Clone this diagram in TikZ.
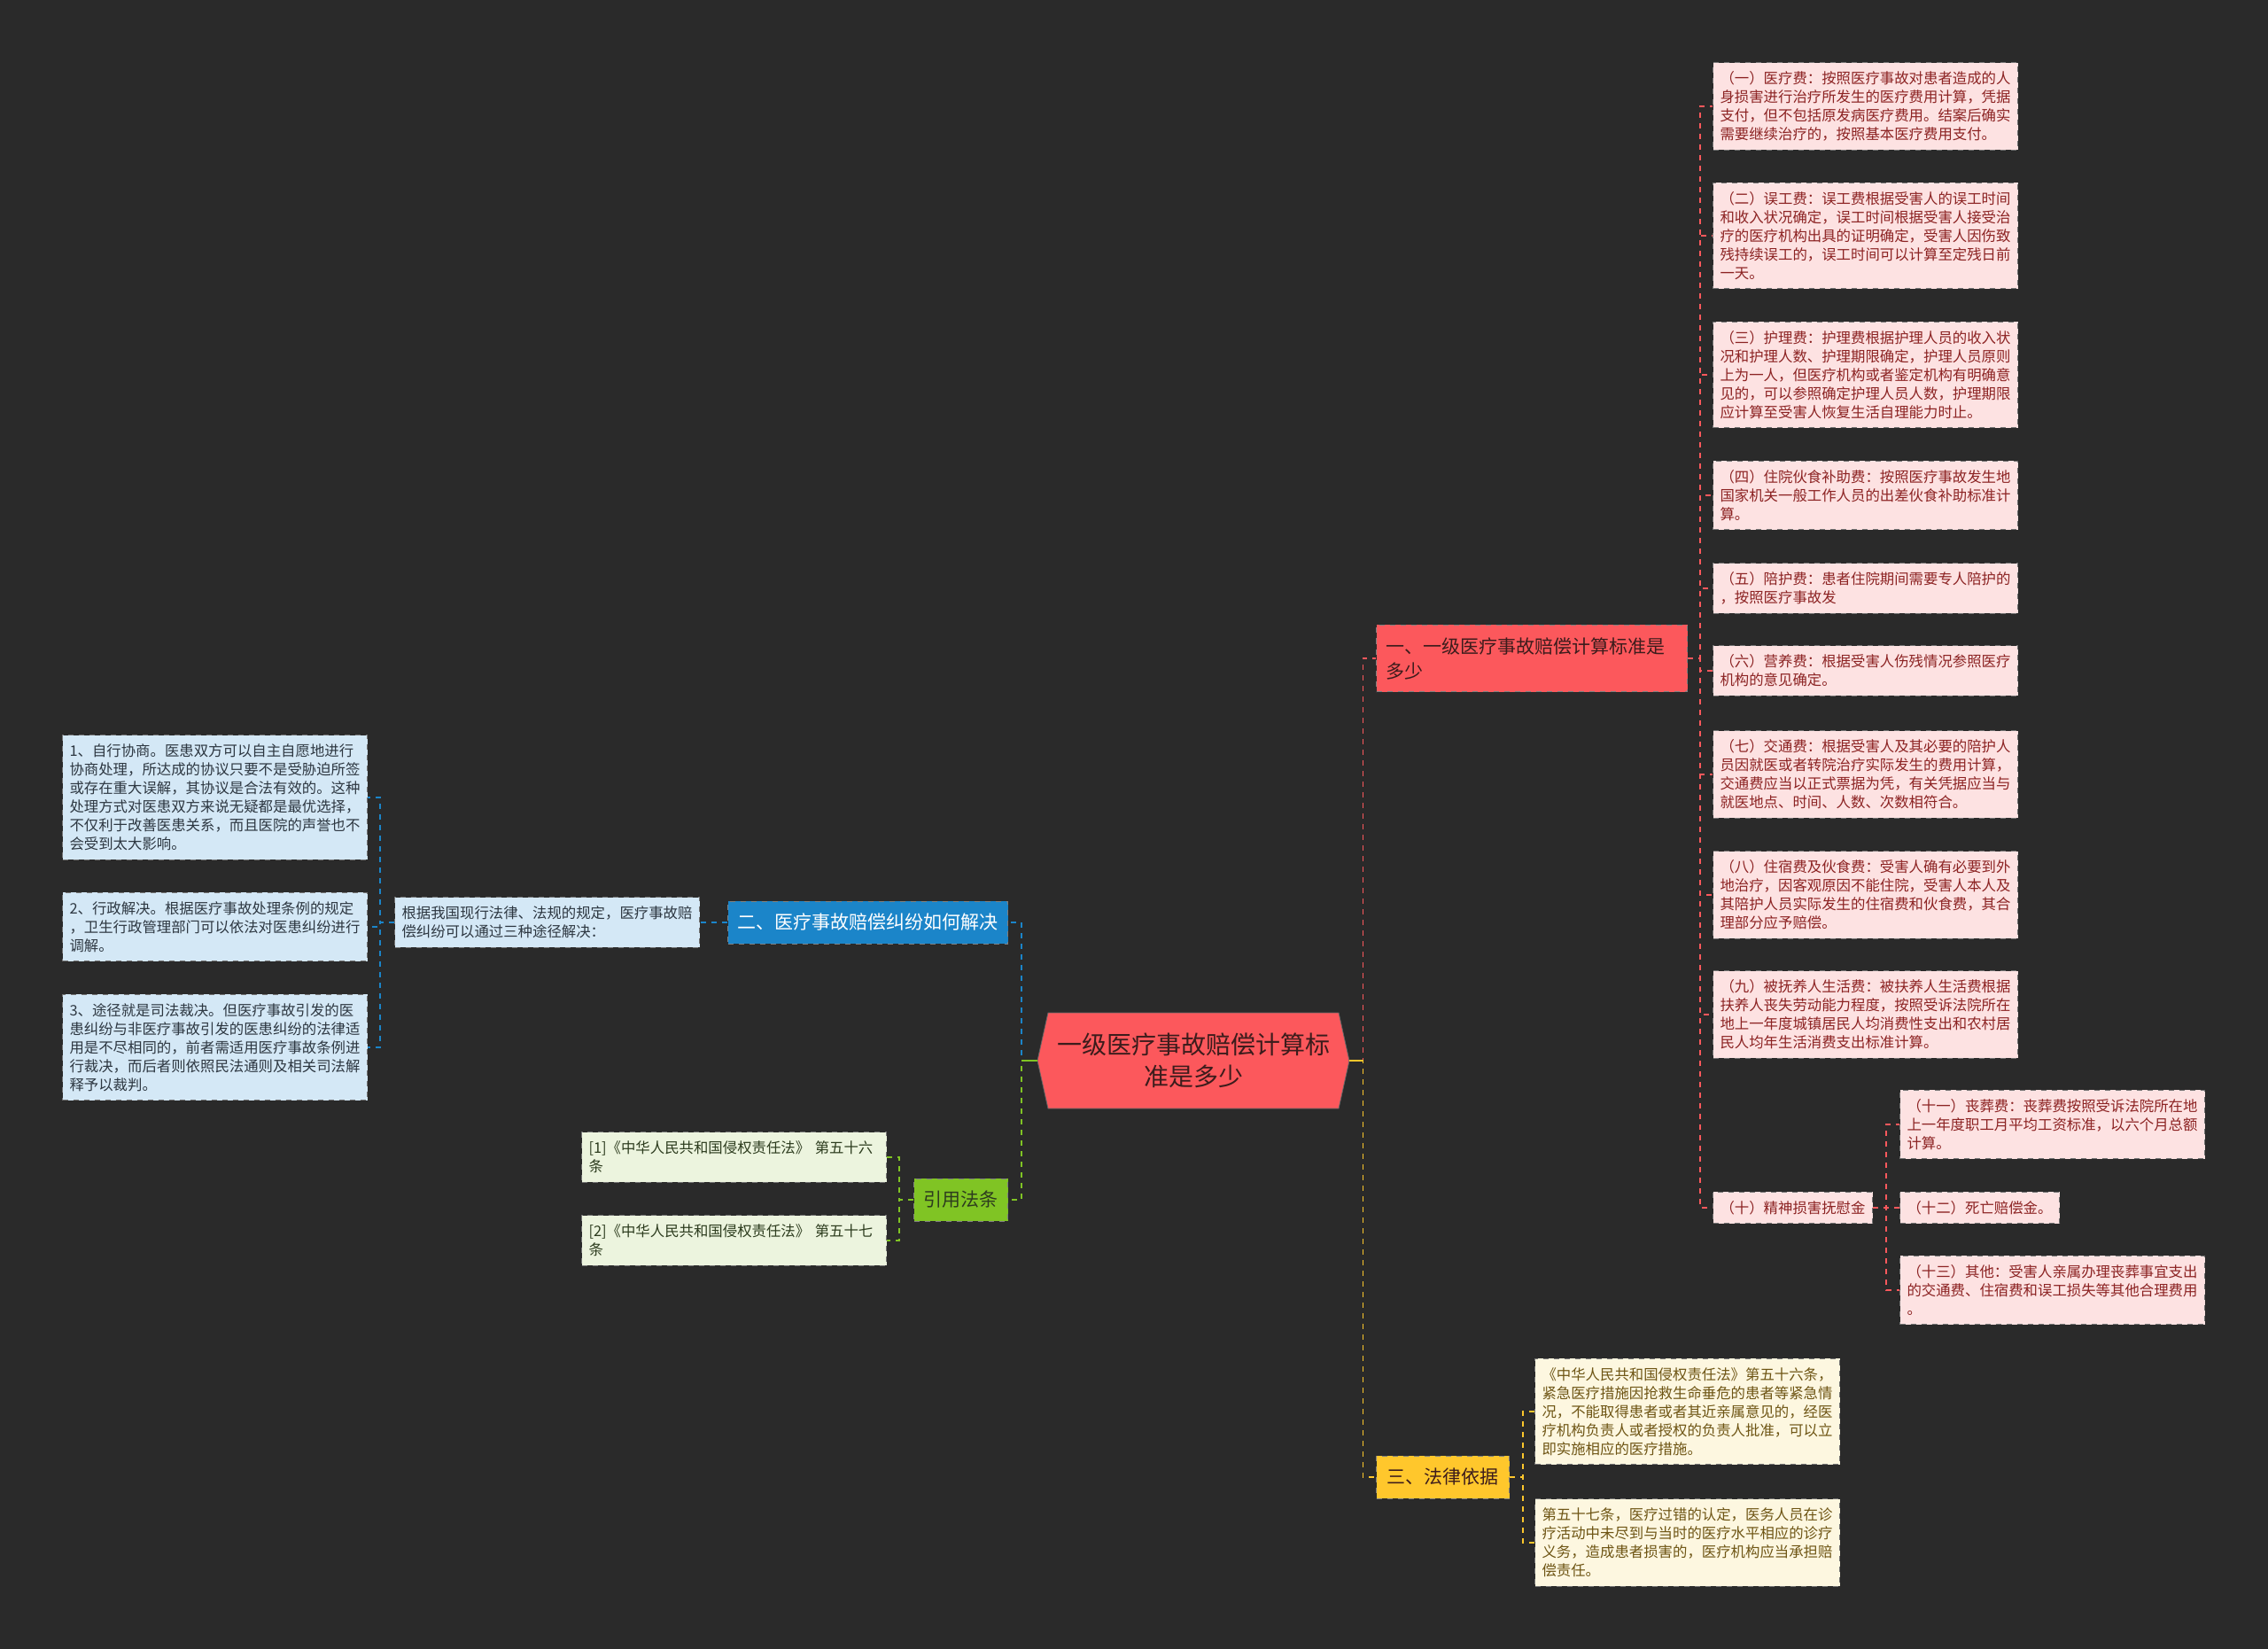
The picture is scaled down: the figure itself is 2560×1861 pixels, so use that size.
\documentclass[tikz,border=0pt]{standalone}
\usepackage{fontspec}
\setmainfont{Noto Sans CJK SC}
\usepackage{tikz}
\usetikzlibrary{shapes.symbols,positioning}
\definecolor{mapbg}{RGB}{42,42,42}
\definecolor{mapred}{RGB}{252,88,92}
\definecolor{mapredlight}{RGB}{253,226,226}
\definecolor{mapredtext}{RGB}{140,35,35}
\definecolor{mapblue}{RGB}{27,133,201}
\definecolor{mapbluelight}{RGB}{212,232,246}
\definecolor{mapbluetext}{RGB}{45,55,65}
\definecolor{mapgreen}{RGB}{128,196,36}
\definecolor{mapgreenlight}{RGB}{236,244,222}
\definecolor{mapgreentext}{RGB}{45,60,30}
\definecolor{mapyellow}{RGB}{255,199,44}
\definecolor{mapyellowlight}{RGB}{253,247,224}
\definecolor{mapyellowtext}{RGB}{110,85,20}
\definecolor{mapdark}{RGB}{60,28,28}

\begin{document}
\begin{tikzpicture}[
  x=0.5pt, y=-0.5pt,
  every node/.style={font=\fontsize{8.2}{10.5}\selectfont},
  leaf/.style={rectangle, draw=black!55, dashed, line width=0.5pt,
               inner xsep=4pt, inner ysep=5pt, text width=164pt, align=left},
  redleaf/.style={leaf, fill=mapredlight, text=mapredtext},
  blueleaf/.style={leaf, fill=mapbluelight, text=mapbluetext},
  greenleaf/.style={leaf, fill=mapgreenlight, text=mapgreentext},
  yellowleaf/.style={leaf, fill=mapyellowlight, text=mapyellowtext},
  branch/.style={rectangle, draw=black!50, dashed, line width=0.5pt,
                 inner xsep=5.5pt, minimum height=24pt, align=left,
                 font=\fontsize{10.5}{14}\selectfont},
  link/.style={dashed, line width=0.9pt},
]
% Background
\fill[mapbg] (0,0) rectangle (2560,1861);

% Root topic
\node[shape=signal, signal to=west and east, signal pointer angle=155,
      fill=mapred, draw=black!60, minimum width=176pt, minimum height=54pt,
      inner xsep=3pt, align=center, text=mapdark,
      font=\fontsize{14}{18}\selectfont] (root) at (1347,1197)
      {一级医疗事故赔偿计算标\\准是多少};

% Main branches
\node[branch, fill=mapred, text=mapdark, text width=164.5pt, minimum height=37.5pt,
      anchor=west] (cost) at (1553,743) {一、一级医疗事故赔偿计算标准是\\多少};
\node[branch, fill=mapblue, text=white, anchor=east] (solve) at (1138,1041)
      {二、医疗事故赔偿纠纷如何解决};
\node[branch, fill=mapgreen, text=mapgreentext, anchor=east] (cite) at (1138,1354)
      {引用法条};
\node[branch, fill=mapyellow, text=mapdark, inner xsep=6pt, anchor=west] (basis) at (1553,1667)
      {三、法律依据};

% Compensation items
\node[redleaf, anchor=west] (fee1) at (1933,120)
      {（一）医疗费：按照医疗事故对患者造成的人\\身损害进行治疗所发生的医疗费用计算，凭据\\支付，但不包括原发病医疗费用。结案后确实\\需要继续治疗的，按照基本医疗费用支付。};
\node[redleaf, anchor=west] (fee2) at (1933,266)
      {（二）误工费：误工费根据受害人的误工时间\\和收入状况确定，误工时间根据受害人接受治\\疗的医疗机构出具的证明确定，受害人因伤致\\残持续误工的，误工时间可以计算至定残日前\\一天。};
\node[redleaf, anchor=west] (fee3) at (1933,423)
      {（三）护理费：护理费根据护理人员的收入状\\况和护理人数、护理期限确定，护理人员原则\\上为一人，但医疗机构或者鉴定机构有明确意\\见的，可以参照确定护理人员人数，护理期限\\应计算至受害人恢复生活自理能力时止。};
\node[redleaf, anchor=west] (fee4) at (1933,559)
      {（四）住院伙食补助费：按照医疗事故发生地\\国家机关一般工作人员的出差伙食补助标准计\\算。};
\node[redleaf, anchor=west] (fee5) at (1933,664)
      {（五）陪护费：患者住院期间需要专人陪护的\\，按照医疗事故发};
\node[redleaf, anchor=west] (fee6) at (1933,757)
      {（六）营养费：根据受害人伤残情况参照医疗\\机构的意见确定。};
\node[redleaf, anchor=west] (fee7) at (1933,874)
      {（七）交通费：根据受害人及其必要的陪护人\\员因就医或者转院治疗实际发生的费用计算，\\交通费应当以正式票据为凭，有关凭据应当与\\就医地点、时间、人数、次数相符合。};
\node[redleaf, anchor=west] (fee8) at (1933,1010)
      {（八）住宿费及伙食费：受害人确有必要到外\\地治疗，因客观原因不能住院，受害人本人及\\其陪护人员实际发生的住宿费和伙食费，其合\\理部分应予赔偿。};
\node[redleaf, anchor=west] (fee9) at (1933,1145)
      {（九）被抚养人生活费：被扶养人生活费根据\\扶养人丧失劳动能力程度，按照受诉法院所在\\地上一年度城镇居民人均消费性支出和农村居\\民人均年生活消费支出标准计算。};
\node[redleaf, text width=82pt, anchor=west] (fee10) at (1933,1363)
      {（十）精神损害抚慰金};
\node[redleaf, anchor=west] (fee11) at (2144,1269)
      {（十一）丧葬费：丧葬费按照受诉法院所在地\\上一年度职工月平均工资标准，以六个月总额\\计算。};
\node[redleaf, text width=82pt, anchor=west] (fee12) at (2144,1363)
      {（十二）死亡赔偿金。};
\node[redleaf, anchor=west] (fee13) at (2144,1456)
      {（十三）其他：受害人亲属办理丧葬事宜支出\\的交通费、住宿费和误工损失等其他合理费用\\。};

% Ways to settle a dispute
\node[blueleaf, anchor=east] (intro) at (790,1041)
      {根据我国现行法律、法规的规定，医疗事故赔\\偿纠纷可以通过三种途径解决：};
\node[blueleaf, anchor=east] (way1) at (415,900)
      {1、自行协商。医患双方可以自主自愿地进行\\协商处理，所达成的协议只要不是受胁迫所签\\或存在重大误解，其协议是合法有效的。这种\\处理方式对医患双方来说无疑都是最优选择，\\不仅利于改善医患关系，而且医院的声誉也不\\会受到太大影响。};
\node[blueleaf, anchor=east] (way2) at (415,1046)
      {2、行政解决。根据医疗事故处理条例的规定\\，卫生行政管理部门可以依法对医患纠纷进行\\调解。};
\node[blueleaf, anchor=east] (way3) at (415,1182)
      {3、途径就是司法裁决。但医疗事故引发的医\\患纠纷与非医疗事故引发的医患纠纷的法律适\\用是不尽相同的，前者需适用医疗事故条例进\\行裁决，而后者则依照民法通则及相关司法解\\释予以裁判。};

% Cited articles
\node[greenleaf, anchor=east] (law1) at (1001,1306)
      {[1]《中华人民共和国侵权责任法》 第五十六\\条};
\node[greenleaf, anchor=east] (law2) at (1001,1400)
      {[2]《中华人民共和国侵权责任法》 第五十七\\条};

% Legal basis
\node[yellowleaf, anchor=west] (art56) at (1732,1593)
      {《中华人民共和国侵权责任法》第五十六条，\\紧急医疗措施因抢救生命垂危的患者等紧急情\\况，不能取得患者或者其近亲属意见的，经医\\疗机构负责人或者授权的负责人批准，可以立\\即实施相应的医疗措施。};
\node[yellowleaf, anchor=west] (art57) at (1732,1741)
      {第五十七条，医疗过错的认定，医务人员在诊\\疗活动中未尽到与当时的医疗水平相应的诊疗\\义务，造成患者损害的，医疗机构应当承担赔\\偿责任。};

% Connectors from the root
\draw[link, mapred] (root.east) -- ++(15,0) |- (cost.west);
\draw[link, mapyellow] (root.east) -- ++(15,0) |- (basis.west);
\draw[link, mapblue] (root.west) -- ++(-18,0) |- (solve.east);
\draw[link, mapgreen] (root.west) -- ++(-18,0) |- (cite.east);
\draw[line width=0.9pt, mapyellow] (root.east) -- ++(15,0);
\draw[line width=0.9pt, mapgreen] (root.west) -- ++(-18,0);

% Connectors to the compensation items
\draw[link, mapred] (cost.east) -- ++(14,0) |- (fee1.west);
\draw[link, mapred] (cost.east) -- ++(14,0) |- (fee2.west);
\draw[link, mapred] (cost.east) -- ++(14,0) |- (fee3.west);
\draw[link, mapred] (cost.east) -- ++(14,0) |- (fee4.west);
\draw[link, mapred] (cost.east) -- ++(14,0) |- (fee5.west);
\draw[link, mapred] (cost.east) -- ++(14,0) |- (fee6.west);
\draw[link, mapred] (cost.east) -- ++(14,0) |- (fee7.west);
\draw[link, mapred] (cost.east) -- ++(14,0) |- (fee8.west);
\draw[link, mapred] (cost.east) -- ++(14,0) |- (fee9.west);
\draw[link, mapred] (cost.east) -- ++(14,0) |- (fee10.west);
\draw[link, mapred] (fee10.east) -- ++(15,0) |- (fee11.west);
\draw[link, mapred] (fee10.east) -- ++(15,0) |- (fee12.west);
\draw[link, mapred] (fee10.east) -- ++(15,0) |- (fee13.west);

% Connectors on the left side
\draw[link, mapblue] (solve.west) -- (intro.east);
\draw[link, mapblue] (intro.west) -- ++(-16,0) |- (way1.east);
\draw[link, mapblue] (intro.west) -- ++(-16,0) |- (way2.east);
\draw[link, mapblue] (intro.west) -- ++(-16,0) |- (way3.east);
\draw[link, mapgreen] (cite.west) -- ++(-16,0) |- (law1.east);
\draw[link, mapgreen] (cite.west) -- ++(-16,0) |- (law2.east);

% Connectors to the legal basis
\draw[link, mapyellow] (basis.east) -- ++(15,0) |- (art56.west);
\draw[link, mapyellow] (basis.east) -- ++(15,0) |- (art57.west);
\end{tikzpicture}
\end{document}
